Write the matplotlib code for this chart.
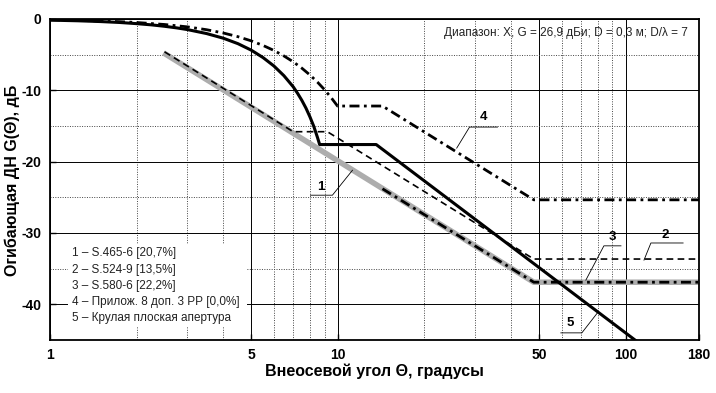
import matplotlib
matplotlib.use("Agg")
import matplotlib.pyplot as plt
from matplotlib.ticker import FixedLocator, NullFormatter
from matplotlib.patches import Rectangle

# ---- data ----
# 1 - S.465-6 (grey thick)
x1 = [2.48, 48.0, 180.0]
y1 = [-4.75, -36.9, -36.9]
# 2 - S.524-9 (dashed)
x2 = [2.5, 7.0, 9.2, 48.0, 180.0]
y2 = [-4.6, -15.8, -15.8, -33.65, -33.65]
# 3 - S.580-6 (dash-dot, on grey)
x3 = [14.3, 48.0, 180.0]
y3 = [-23.8, -36.9, -36.9]
# 4 - Appendix 8 (dash-dot)
x4 = [1.0, 1.25, 1.5, 1.75, 2.0, 2.5, 3.0, 3.5, 4.0, 4.5, 5.0, 5.5, 6.0, 6.5, 7.0,
      7.5, 8.0, 8.5, 9.0, 9.5, 9.98, 14.3, 48.0, 180.0]
y4 = [-0.12, -0.19, -0.28, -0.375, -0.49, -0.77, -1.1, -1.5, -1.96, -2.48, -3.06, -3.71, -4.41, -5.18, -6.0,
      -6.89, -7.84, -8.85, -9.92, -11.06, -12.2, -12.2, -25.35, -25.35]
# 5 - circular flat aperture (solid)
x5 = [1.0, 1.25, 1.5, 1.75, 2.0, 2.25, 2.5, 2.75, 3.0, 3.5, 4.0, 4.5, 5.0, 5.5, 6.0, 6.5,
      7.0, 7.25, 7.5, 7.75, 8.0, 8.25, 8.5, 8.65, 13.6, 112.0]
y5 = [-0.16, -0.25, -0.36, -0.49, -0.65, -0.82, -1.02, -1.24, -1.48, -2.04, -2.69, -3.46, -4.36, -5.41, -6.59, -7.95,
      -9.5, -10.42, -11.4, -12.48, -13.7, -15.03, -16.6, -17.6, -17.6, -45.5]

xticks = [1, 5, 10, 50, 100, 180]
xminor = [2, 3, 4, 6, 7, 8, 9, 20, 30, 40, 60, 70, 80, 90]
yticks = [0, -10, -20, -30, -40]
yminor = [-5, -15, -25, -35, -45]

legend_lines = ["1 \u2013 S.465-6 [20,7%]",
                "2 \u2013 S.524-9 [13,5%]",
                "3 \u2013 S.580-6 [22,2%]",
                "4 \u2013 \u041f\u0440\u0438\u043b\u043e\u0436. 8 \u0434\u043e\u043f. 3 \u0420\u0420 [0,0%]",
                "5 \u2013 \u041a\u0440\u0443\u043b\u0430\u044f \u043f\u043b\u043e\u0441\u043a\u0430\u044f \u0430\u043f\u0435\u0440\u0442\u0443\u0440\u0430"]
info = "\u0414\u0438\u0430\u043f\u0430\u0437\u043e\u043d: X; G = 26,9 \u0434\u0411\u0438; D = 0,3 \u043c; D/\u03bb = 7"
xlabel = "\u0412\u043d\u0435\u043e\u0441\u0435\u0432\u043e\u0439 \u0443\u0433\u043e\u043b \u0398, \u0433\u0440\u0430\u0434\u0443\u0441\u044b"
ylabel = "\u041e\u0433\u0438\u0431\u0430\u044e\u0449\u0430\u044f \u0414\u041d G(\u0398), \u0434\u0411"

plt.rcParams['font.family'] = ['Liberation Sans', 'DejaVu Sans']

W, H = 716, 393
fig = plt.figure(figsize=(W / 100, H / 100), dpi=100)
L, R, T, B = 50, 699, 19, 340
ax = fig.add_axes([L / W, 1 - B / H, (R - L) / W, (B - T) / H])

ax.set_xscale('log')
ax.set_xlim(1, 180)
ax.set_ylim(-45, 0)

ax.xaxis.set_major_locator(FixedLocator(xticks))
ax.xaxis.set_minor_locator(FixedLocator(xminor))
ax.xaxis.set_minor_formatter(NullFormatter())
ax.set_xticklabels([str(t) for t in xticks])
ax.yaxis.set_major_locator(FixedLocator(yticks))
ax.yaxis.set_minor_locator(FixedLocator(yminor))
ax.set_yticklabels([str(t) for t in yticks])

ax.grid(which='major', color='black', lw=0.7, ls='-', zorder=0)
ax.grid(which='minor', color='#444444', lw=0.7, ls=(0, (1, 1.5)), zorder=0)
ax.set_axisbelow(True)

ax.tick_params(which='major', direction='in', length=4, width=1, labelsize=10, pad=6)
ax.tick_params(which='minor', direction='in', length=0)
for lab in ax.get_xticklabels() + ax.get_yticklabels():
    lab.set_fontweight('bold')
for s in ax.spines.values():
    s.set_linewidth(1.3)
    s.set_color('black')

# curves
ax.plot(x1, y1, color='#adadad', lw=4.0, solid_capstyle='butt', zorder=2)
ax.plot(x2, y2, color='black', lw=1.2, dashes=(4, 2.6), zorder=3)
ax.plot(x3, y3, color='black', lw=2.0, dashes=(3.6, 1.6, 1.0, 1.6), zorder=3)
ax.plot(x4, y4, color='black', lw=2.0, dashes=(3.6, 1.6, 1.0, 1.6), zorder=3)
ax.plot(x5, y5, color='black', lw=2.2, zorder=4)

# labels with leader lines
lk = dict(color='black', lw=0.6, zorder=5)
tk = dict(fontsize=9.5, fontweight='bold', ha='center', va='center', zorder=6)
ax.plot([8.04, 9.58, 11.25], [-24.7, -24.7, -21.2], **lk)
ax.text(8.75, -23.6, "1", **tk)
ax.plot([25.9, 28.7, 35.9], [-18.1, -15.15, -15.15], **lk)
ax.text(32.1, -13.8, "4", **tk)
ax.plot([72.8, 84.1, 96.4], [-36.6, -31.8, -31.8], **lk)
ax.text(89.7, -30.6, "3", **tk)
ax.plot([115.9, 122.5, 158.5], [-33.8, -31.4, -31.4], **lk)
ax.text(137, -30.3, "2", **tk)
ax.plot([80.2, 70.5, 59.6], [-41.1, -44.0, -44.0], **lk)
ax.text(64, -42.6, "5", **tk)

# legend block
def fx(px):
    return (px - L) / (R - L)

def fy(py):
    return (B - py) / (B - T)

ax.add_patch(Rectangle((fx(68), fy(326)), fx(247) - fx(68), fy(244) - fy(326),
                       transform=ax.transAxes, facecolor='white', edgecolor='none', zorder=1.5))
for txt, py in zip(legend_lines, [253, 269.5, 286, 302.5, 318]):
    ax.text(fx(72), fy(py), txt, transform=ax.transAxes, fontsize=8.5,
            ha='left', va='center', color='#222222', zorder=6)

ax.text(fx(688), fy(33), info, transform=ax.transAxes, fontsize=8.5,
        ha='right', va='center', color='#222222', zorder=6)

fig.text(374 / W, 1 - 371 / H, xlabel, fontsize=11.5, fontweight='bold',
         ha='center', va='center')
fig.text(12 / W, 1 - 180 / H, ylabel, fontsize=11.5, fontweight='bold',
         ha='center', va='center', rotation=90)

fig.savefig("out.png", dpi=100)
